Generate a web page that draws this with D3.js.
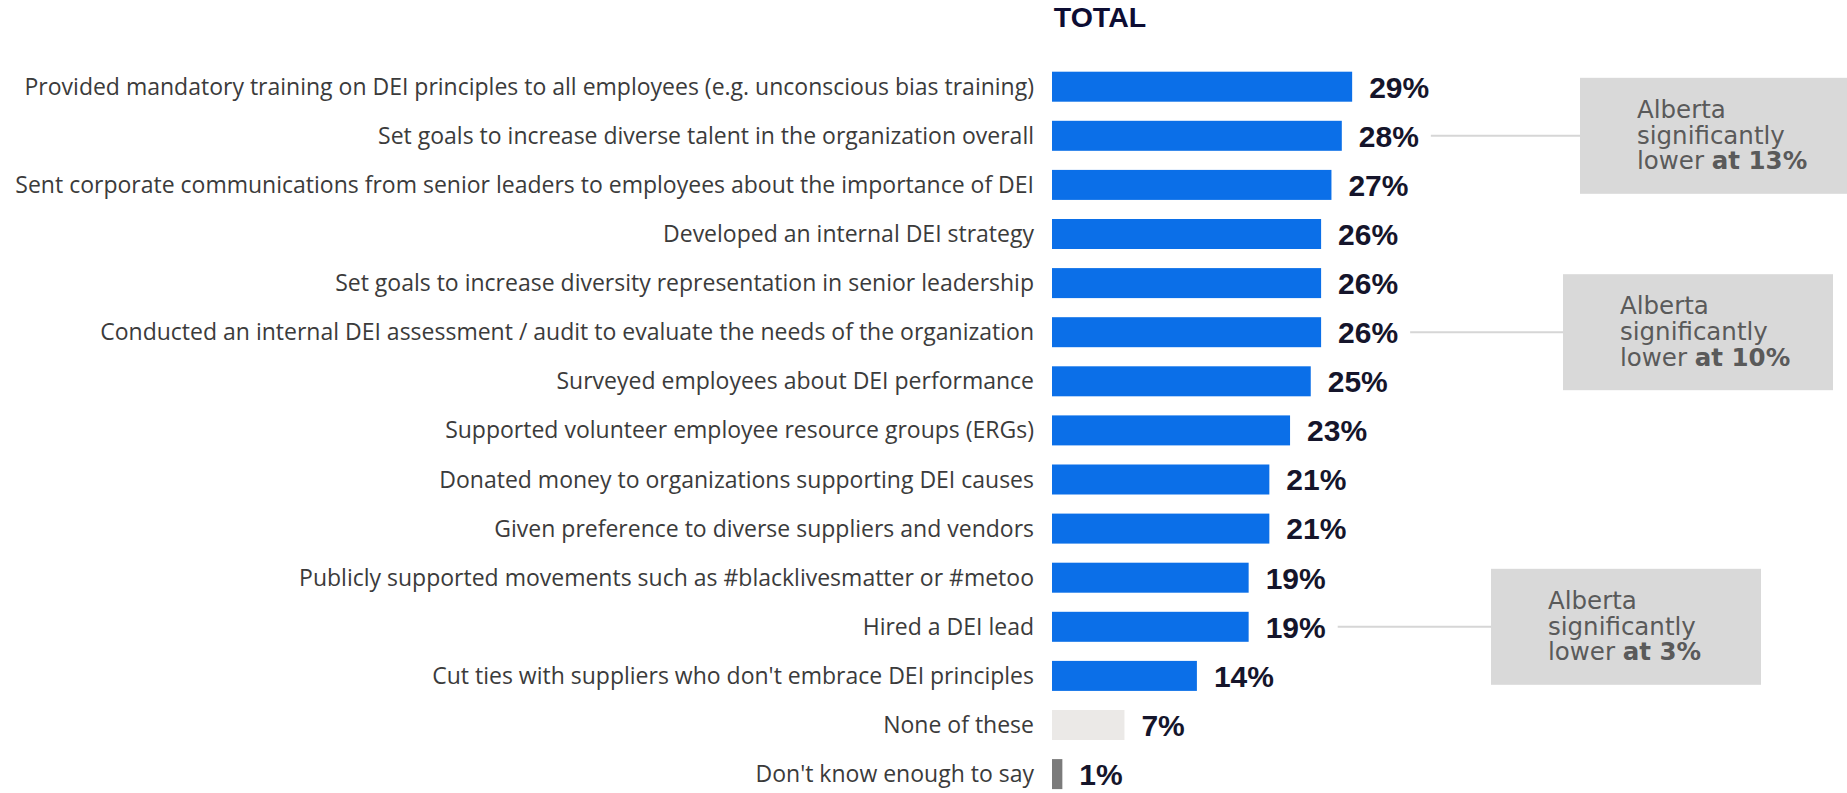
<!DOCTYPE html>
<html>
<head>
<meta charset="utf-8">
<script src="https://cdn.jsdelivr.net/npm/d3@7"></script>
<style>
  html, body { margin: 0; padding: 0; background: #ffffff; }
  svg { display: block; }
</style>
</head>
<body>
<svg id="chart" width="1847" height="793"></svg>
<script>
// Survey actions taken on DEI (share of organizations, TOTAL)
const categories = [
  "Provided mandatory training on DEI principles to all employees (e.g. unconscious bias training)",
  "Set goals to increase diverse talent in the organization overall",
  "Sent corporate communications from senior leaders to employees about the importance of DEI",
  "Developed an internal DEI strategy",
  "Set goals to increase diversity representation in senior leadership",
  "Conducted an internal DEI assessment / audit to evaluate the needs of the organization",
  "Surveyed employees about DEI performance",
  "Supported volunteer employee resource groups (ERGs)",
  "Donated money to organizations supporting DEI causes",
  "Given preference to diverse suppliers and vendors",
  "Publicly supported movements such as #blacklivesmatter or #metoo",
  "Hired a DEI lead",
  "Cut ties with suppliers who don't embrace DEI principles",
  "None of these",
  "Don't know enough to say"
];
const values = [29, 28, 27, 26, 26, 26, 25, 23, 21, 21, 19, 19, 14, 7, 1];

// Callouts: which row they point at and the Alberta figure they report
const calloutRows = [
  "Set goals to increase diverse talent in the organization overall",
  "Conducted an internal DEI assessment / audit to evaluate the needs of the organization",
  "Hired a DEI lead"
];
const calloutValues = [13, 10, 3];

const title = "TOTAL";

// ---- layout ----
const svg = d3.select("#chart");
const barLeft = 1052;
const pxPerPoint = 10.35;
const rowStep = 49.1;
const firstRowCenter = 86.7;

const x = d3.scaleLinear()
  .domain([0, 30])
  .range([barLeft, barLeft + 30 * pxPerPoint]);

const pad = 1 - 30 / rowStep;
const y = d3.scaleBand()
  .domain(categories)
  .range([firstRowCenter - rowStep / 2, firstRowCenter - rowStep / 2 + rowStep * categories.length])
  .paddingInner(pad)
  .paddingOuter(pad / 2);

const barColor = d => {
  if (d === "None of these") return "#ebe9e7";
  if (d === "Don't know enough to say") return "#7b7b7b";
  return "#0b6fe8";
};

// title
svg.append("text")
  .attr("x", 1100)
  .attr("y", 27)
  .attr("text-anchor", "middle")
  .attr("font-family", "'Liberation Sans', Arial, sans-serif")
  .attr("font-weight", 700)
  .attr("font-size", 28.5)
  .attr("fill", "#0d0d33")
  .text(title);

const rows = svg.append("g")
  .selectAll("g")
  .data(categories.map((c, i) => ({ c, v: values[i] })))
  .join("g");

// bars
rows.append("rect")
  .attr("x", x(0))
  .attr("y", d => y(d.c))
  .attr("width", d => x(d.v) - x(0))
  .attr("height", y.bandwidth())
  .attr("fill", d => barColor(d.c));

// category labels
rows.append("text")
  .attr("x", x(0) - 18)
  .attr("y", d => y(d.c) + y.bandwidth() / 2)
  .attr("dy", "0.35em")
  .attr("text-anchor", "end")
  .attr("font-family", "'Open Sans', sans-serif")
  .attr("font-size", 23)
  .attr("fill", "#3b3b3b")
  .text(d => d.c);

// value labels
const valueLabels = rows.append("text")
  .attr("x", d => x(d.v) + 17)
  .attr("y", d => y(d.c) + y.bandwidth() / 2)
  .attr("dy", "0.36em")
  .attr("font-family", "'Liberation Sans', Arial, sans-serif")
  .attr("font-weight", 700)
  .attr("font-size", 30)
  .attr("fill", "#15152b")
  .text(d => d.v + "%");

// callouts
const boxLeft = [1580, 1563, 1491];
const boxW = 270, boxH = 116;

calloutRows.forEach((row, i) => {
  const idx = categories.indexOf(row);
  const cy = y(row) + y.bandwidth() / 2;
  const labelNode = valueLabels.filter((d, j) => j === idx).node();
  const bb = labelNode.getBBox();
  const labelEnd = bb.x + bb.width;
  const g = svg.append("g");
  g.append("line")
    .attr("x1", labelEnd + 12)
    .attr("x2", boxLeft[i])
    .attr("y1", cy)
    .attr("y2", cy)
    .attr("stroke", "#d6d6d6")
    .attr("stroke-width", 2);
  const top = cy - boxH / 2;
  g.append("rect")
    .attr("x", boxLeft[i])
    .attr("y", top)
    .attr("width", boxW)
    .attr("height", boxH)
    .attr("fill", "#d9d9d9");
  const t = g.append("text")
    .attr("font-family", "'DejaVu Sans', sans-serif")
    .attr("font-size", 24.5)
    .attr("fill", "#5a5a5a");
  const tx = boxLeft[i] + 57;
  t.append("tspan").attr("x", tx).attr("y", top + 40).text("Alberta");
  t.append("tspan").attr("x", tx).attr("y", top + 66).text("significantly");
  const l3 = t.append("tspan").attr("x", tx).attr("y", top + 91.5);
  l3.append("tspan").text("lower ");
  l3.append("tspan").attr("font-weight", 700).text("at " + calloutValues[i] + "%");
});
</script>
</body>
</html>
